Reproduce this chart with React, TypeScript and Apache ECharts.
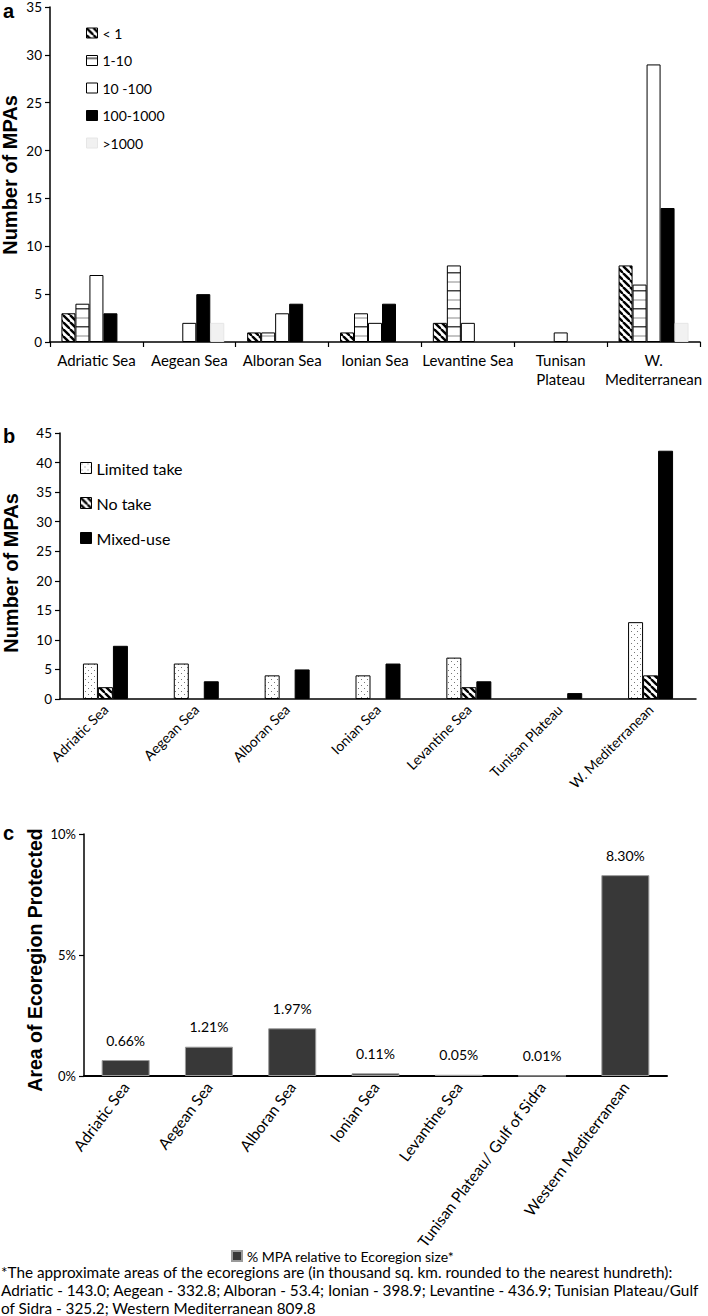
import React, { useEffect, useRef } from "react";
import * as echarts from "echarts";

// ---------- data ----------
const regionsA = ["Adriatic Sea", "Aegean Sea", "Alboran Sea", "Ionian Sea", "Levantine Sea", "Tunisan\nPlateau", "W.\nMediterranean"];
const sizeNames = ["< 1", "1-10", "10 -100", "100-1000", ">1000"];
const sizeLt1 = [3, 0, 1, 1, 2, 0, 8];
const size1to10 = [4, 0, 1, 3, 8, 0, 6];
const size10to100 = [7, 2, 3, 2, 2, 1, 29];
const size100to1000 = [3, 5, 4, 4, 0, 0, 14];
const sizeGt1000 = [0, 2, 0, 0, 0, 0, 2];

const regionsB = ["Adriatic Sea", "Aegean Sea", "Alboran Sea", "Ionian Sea", "Levantine Sea", "Tunisan Plateau", "W. Mediterranean"];
const typeNames = ["Limited take", "No take", "Mixed-use"];
const limitedTake = [6, 6, 4, 4, 7, 0, 13];
const noTake = [2, 0, 0, 0, 2, 0, 4];
const mixedUse = [9, 3, 5, 6, 3, 1, 42];

const regionsC = ["Adriatic Sea", "Aegean Sea", "Alboran Sea", "Ionian Sea", "Levantine Sea", "Tunisan Plateau/ Gulf of Sidra", "Western Mediterranean"];
const pctName = "% MPA relative to Ecoregion size*";
const pctProtected = [0.66, 1.21, 1.97, 0.11, 0.05, 0.01, 8.3];

const footnoteLines = [
  "*The approximate areas of the ecoregions are (in thousand sq. km. rounded to the nearest hundreth):",
  "Adriatic - 143.0; Aegean - 332.8; Alboran - 53.4; Ionian - 398.9; Levantine - 436.9; Tunisian Plateau/Gulf",
  "of Sidra - 325.2; Western Mediterranean 809.8",
];

// zero counts are drawn as no bar at all
const bars = (arr: number[]) => arr.map((v) => (v === 0 ? "-" : v));

// ---------- patterns ----------
function makePattern(w: number, h: number, draw: (ctx: CanvasRenderingContext2D) => void) {
  const c = document.createElement("canvas");
  c.width = w;
  c.height = h;
  const ctx = c.getContext("2d")!;
  ctx.fillStyle = "#fff";
  ctx.fillRect(0, 0, w, h);
  draw(ctx);
  return { image: c.toDataURL(), repeat: "repeat", imageWidth: w, imageHeight: h } as any;
}

const FONT = "Lato";

export default function App() {
  const ref = useRef<HTMLDivElement>(null);
  useEffect(() => {
    document.body.style.margin = "0";
    const hatch = makePattern(7, 7, (ctx) => {
      ctx.strokeStyle = "#000";
      ctx.lineWidth = 2.4;
      for (const off of [-7, 0, 7]) {
        ctx.beginPath();
        ctx.moveTo(off, 0);
        ctx.lineTo(off + 7, 7);
        ctx.stroke();
      }
    });
    const hlines = makePattern(4, 18, (ctx) => {
      ctx.fillStyle = "#444";
      ctx.fillRect(0, 2, 4, 1.5);
      ctx.fillStyle = "#c4c4c4";
      ctx.fillRect(0, 11, 4, 2);
    });
    const dots = makePattern(6, 6, (ctx) => {
      ctx.fillStyle = "#777";
      ctx.fillRect(1, 1, 1, 1);
      ctx.fillRect(4, 4, 1, 1);
    });

    const chart = echarts.init(ref.current!, null, { renderer: "svg" });
    const axisLine = { show: true, lineStyle: { color: "#000", width: 1.5 } };
    const tickY = { show: true, length: 5, lineStyle: { color: "#000", width: 1.2 } };
    const txt = { color: "#000", fontFamily: FONT };
    const border = { borderColor: "#000", borderWidth: 1 };
    const labelFont = "bold 20px 'Liberation Sans'";
    const gtext = (text: string, x: number, y: number, font: string, rotation = 0, align = "left") => ({
      type: "text", x, y, rotation,
      style: { text, font, fill: "#000", align, verticalAlign: "middle", textAlign: align, textVerticalAlign: "middle" },
    });

    const option: any = {
      animation: false,
      textStyle: { fontFamily: FONT },
      grid: [
        { left: 50, top: 7, width: 650, height: 335, containLabel: false, outerBoundsMode: "none" },
        { left: 60, top: 433, width: 636, height: 266, containLabel: false, outerBoundsMode: "none" },
        { left: 84, top: 834, width: 583, height: 242, containLabel: false, outerBoundsMode: "none" },
      ],
      xAxis: [
        {
          gridIndex: 0, type: "category", data: regionsA,
          axisLine, axisTick: { show: true, length: 5, lineStyle: { color: "#000", width: 1.2 } },
          axisLabel: { ...txt, fontSize: 15, interval: 0, margin: 8, lineHeight: 19 },
        },
        {
          gridIndex: 1, type: "category", data: regionsB,
          axisLine, axisTick: { show: false },
          axisLabel: { ...txt, fontSize: 14, interval: 0, rotate: 45, margin: 8 },
        },
        {
          gridIndex: 2, type: "category", data: regionsC,
          axisLine: { show: true, lineStyle: { color: "#000", width: 2 } }, axisTick: { show: false },
          axisLabel: { ...txt, fontSize: 15.5, interval: 0, rotate: 53, margin: 8 },
        },
      ],
      yAxis: [
        { gridIndex: 0, type: "value", min: 0, max: 35, interval: 5, axisLine, axisTick: tickY, splitLine: { show: false }, axisLabel: { ...txt, fontSize: 13.5, margin: 8 } },
        { gridIndex: 1, type: "value", min: 0, max: 45, interval: 5, axisLine, axisTick: tickY, splitLine: { show: false }, axisLabel: { ...txt, fontSize: 13.5, margin: 8 } },
        { gridIndex: 2, type: "value", min: 0, max: 10, interval: 5, axisLine, axisTick: tickY, splitLine: { show: false }, axisLabel: { ...txt, fontSize: 13, margin: 8, formatter: "{value}%" } },
      ],
      legend: [
        {
          data: sizeNames, orient: "vertical", left: 86, top: 26, padding: 0, itemWidth: 11, itemHeight: 10, itemGap: 13.5, icon: "rect",
          textStyle: { ...txt, fontSize: 14 }, itemStyle: { borderColor: "inherit", borderWidth: 1 }, selectedMode: false,
        },
        {
          data: typeNames, orient: "vertical", left: 80, top: 460, padding: 0, itemWidth: 11, itemHeight: 11, itemGap: 19, icon: "rect",
          textStyle: { ...txt, fontSize: 16 }, itemStyle: { borderColor: "inherit", borderWidth: 1 }, selectedMode: false,
        },
        {
          data: [pctName], orient: "horizontal", left: 231, top: 1249, padding: 0, itemWidth: 10, itemHeight: 10, itemGap: 8, icon: "rect",
          textStyle: { ...txt, fontSize: 14 }, selectedMode: false,
        },
      ],
      series: [
        { name: sizeNames[0], type: "bar", xAxisIndex: 0, yAxisIndex: 0, data: bars(sizeLt1), barWidth: 14, barGap: "0%", itemStyle: { color: hatch, ...border } },
        { name: sizeNames[1], type: "bar", xAxisIndex: 0, yAxisIndex: 0, data: bars(size1to10), barWidth: 14, barGap: "0%", itemStyle: { color: hlines, ...border } },
        { name: sizeNames[2], type: "bar", xAxisIndex: 0, yAxisIndex: 0, data: bars(size10to100), barWidth: 14, barGap: "0%", itemStyle: { color: "#fff", ...border } },
        { name: sizeNames[3], type: "bar", xAxisIndex: 0, yAxisIndex: 0, data: bars(size100to1000), barWidth: 14, barGap: "0%", itemStyle: { color: "#000", ...border } },
        { name: sizeNames[4], type: "bar", xAxisIndex: 0, yAxisIndex: 0, data: bars(sizeGt1000), barWidth: 14, barGap: "0%", itemStyle: { color: "#f1f1f1", borderColor: "#e6e6e6", borderWidth: 1 } },

        { name: typeNames[0], type: "bar", xAxisIndex: 1, yAxisIndex: 1, data: bars(limitedTake), barWidth: 15, barGap: "0%", itemStyle: { color: dots, ...border } },
        { name: typeNames[1], type: "bar", xAxisIndex: 1, yAxisIndex: 1, data: bars(noTake), barWidth: 15, barGap: "0%", itemStyle: { color: hatch, ...border } },
        { name: typeNames[2], type: "bar", xAxisIndex: 1, yAxisIndex: 1, data: bars(mixedUse), barWidth: 15, barGap: "0%", itemStyle: { color: "#000", ...border } },

        {
          name: pctName, type: "bar", xAxisIndex: 2, yAxisIndex: 2, data: pctProtected, barWidth: 48,
          itemStyle: { color: "#383838", borderColor: "#9a9a9a", borderWidth: 1 },
          label: { show: true, position: "top", distance: 13, ...txt, fontSize: 14, formatter: (p: any) => p.value.toFixed(2) + "%" },
        },
      ],
      graphic: [
        gtext("a", 3, 10.5, labelFont),
        gtext("b", 3, 436, labelFont),
        gtext("c", 3, 833, labelFont),
        gtext("Number of MPAs", 10, 175, labelFont, Math.PI / 2, "center"),
        gtext("Number of MPAs", 11, 573, labelFont, Math.PI / 2, "center"),
        gtext("Area of Ecoregion Protected", 35, 960, "bold 19.5px 'Liberation Sans'", Math.PI / 2, "center"),
        ...footnoteLines.map((line, i) => gtext(line, 1, 1272 + i * 18.2, `15.3px ${FONT}`)),
      ],
    };
    chart.setOption(option);
    return () => chart.dispose();
  }, []);
  return <div ref={ref} style={{ width: 708, height: 1316 }} />;
}
